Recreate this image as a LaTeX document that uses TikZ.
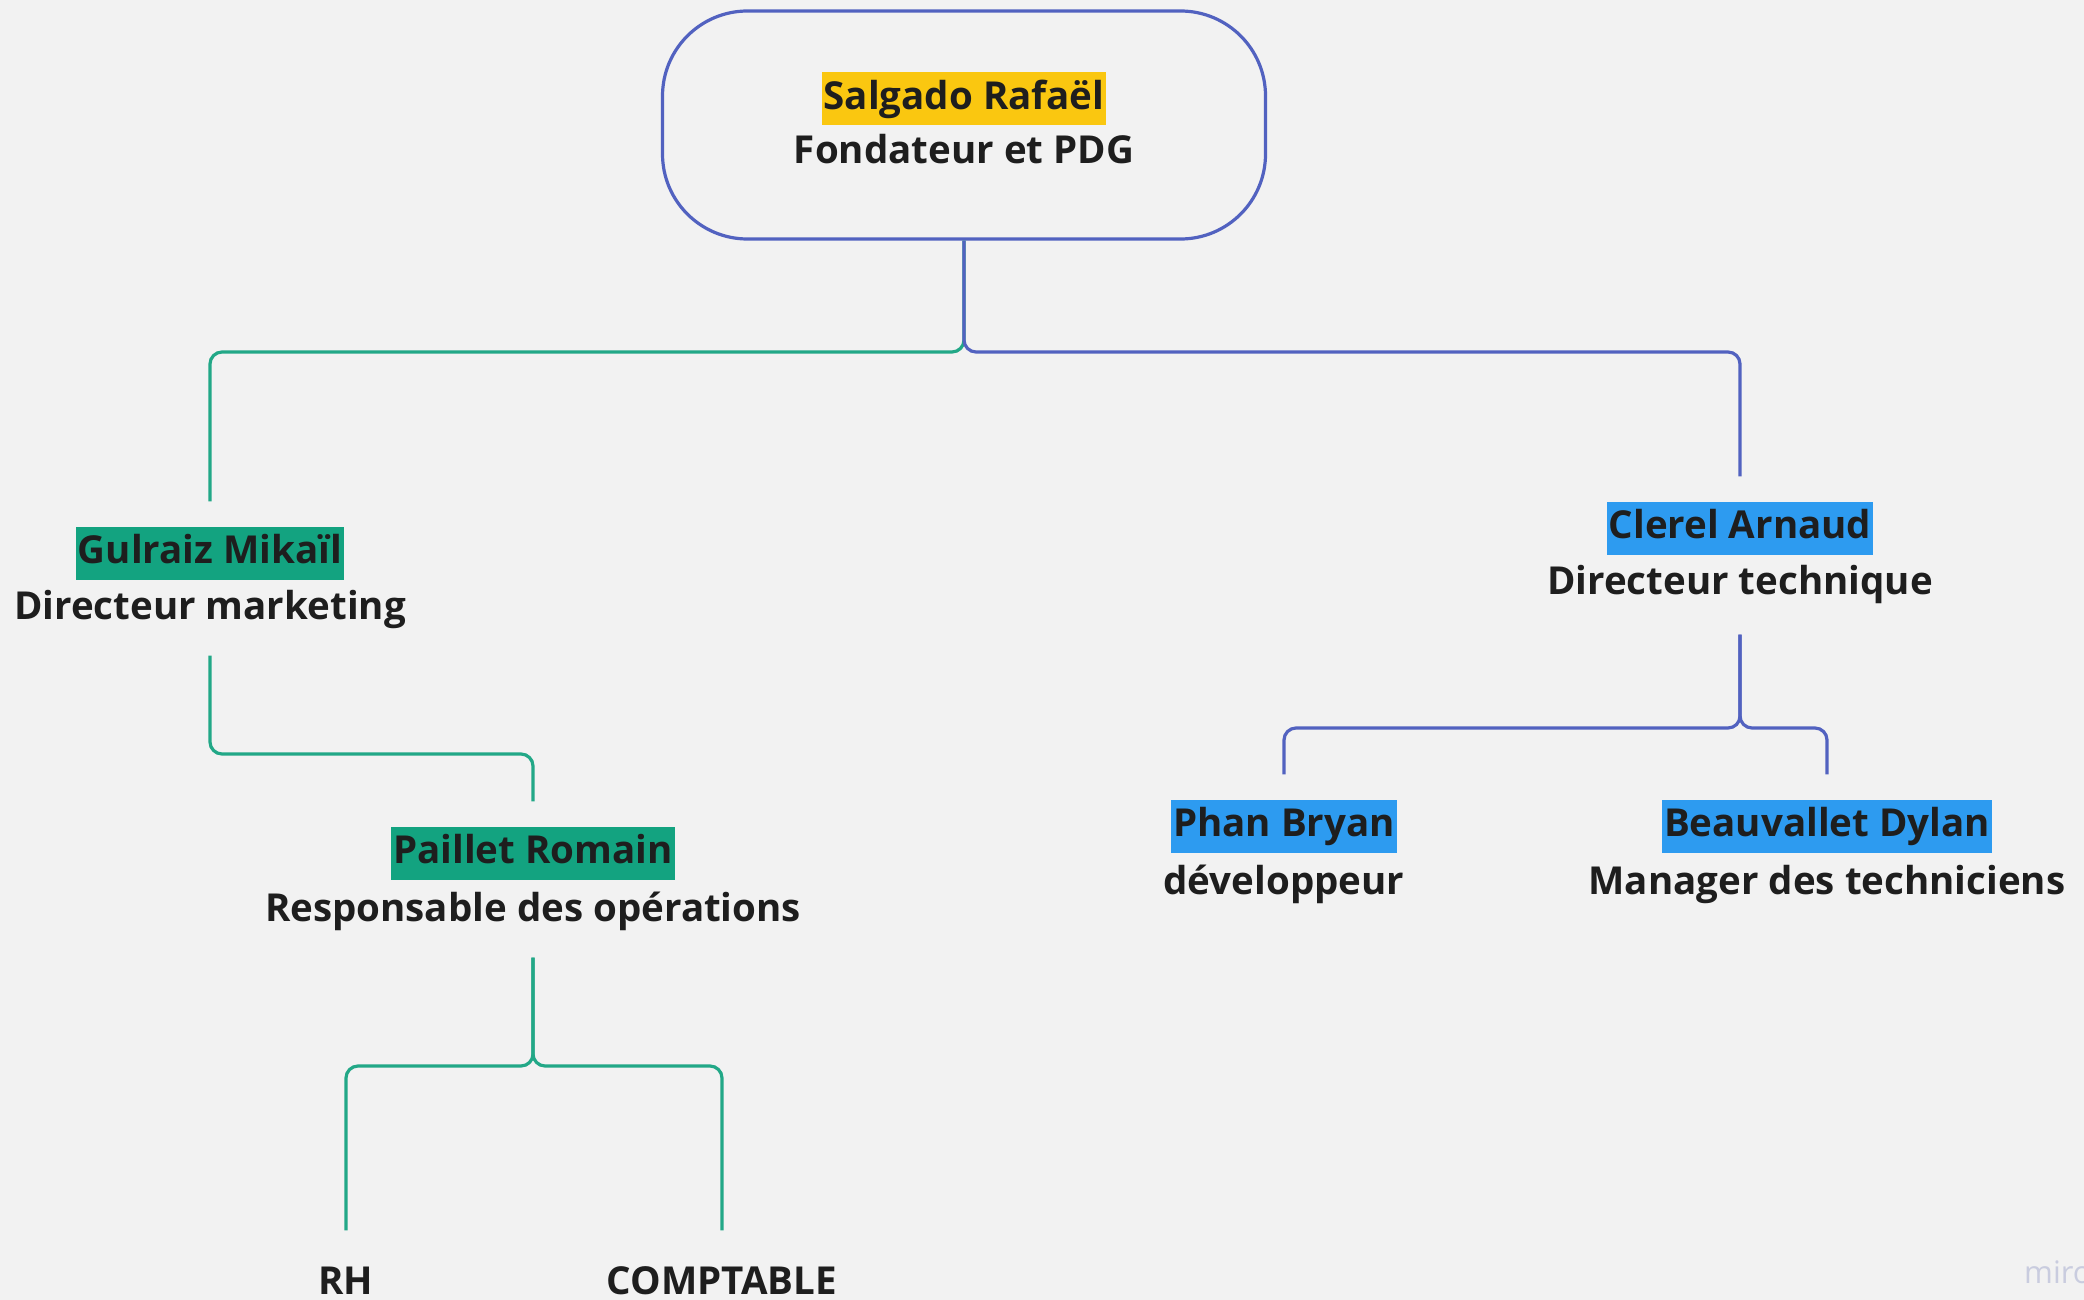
\documentclass[tikz,border=0pt]{standalone}
\usepackage{fontspec}
\IfFontExistsTF{Open Sans SemiBold}{\newfontfamily\sbfont{Open Sans SemiBold}}{\newfontfamily\sbfontx{Open Sans}\newcommand\sbfont{\sbfontx\bfseries}}
\newfontfamily\wmfont{Open Sans}
\definecolor{bg}{HTML}{F2F2F2}
\definecolor{lnblue}{HTML}{5262C0}
\definecolor{lngreen}{HTML}{22A887}
\definecolor{hlyellow}{HTML}{FAC710}
\definecolor{hlgreen}{HTML}{13A380}
\definecolor{hlblue}{HTML}{2D9BF0}
\definecolor{txt}{HTML}{1E1E1E}
\definecolor{miro}{HTML}{C9CCDF}
\tikzset{
  namebox/.style={fill=#1, text=txt, font=\sbfont\fontsize{38.5}{46}\selectfont, inner xsep=2pt, inner ysep=0pt, minimum height=53pt, text height=29pt, text depth=8pt},
  titletext/.style={text=txt, font=\sbfont\fontsize{38.5}{46}\selectfont, inner sep=0pt, text height=29pt, text depth=8pt},
  blueln/.style={draw=lnblue, line width=3.2pt, rounded corners=12pt},
  greenln/.style={draw=lngreen, line width=3.2pt, rounded corners=12pt},
}
\begin{document}
\begin{tikzpicture}[x=1pt,y=-1pt]
\fill[bg] (0,0) rectangle (2084,1300);
\useasboundingbox (0,0) rectangle (2084,1300);

% top box
\node[draw=lnblue, line width=3.2pt, rounded corners=85pt, minimum width=603pt, minimum height=228pt] (top) at (964,125) {};
\node[namebox=hlyellow] (salgado) at (964,99) {Salgado Rafaël};
\node[titletext] (pdg) at (964,153) {Fondateur et PDG};

% level 1
\node[namebox=hlgreen] (gulraiz) at (210,553) {Gulraiz Mikaïl};
\node[titletext] (dirm) at (210,609) {Directeur marketing};
\node[namebox=hlblue] (clerel) at (1740,528) {Clerel Arnaud};
\node[titletext] (dirt) at (1740,584) {Directeur technique};

% level 2
\node[namebox=hlgreen] (paillet) at (533,853) {Paillet Romain};
\node[titletext] (resp) at (533,911) {Responsable des opérations};
\node[namebox=hlblue] (phan) at (1284,826) {Phan Bryan};
\node[titletext] (dev) at (1284,884) {développeur};
\node[namebox=hlblue] (beau) at (1827,826) {Beauvallet Dylan};
\node[titletext] (man) at (1827,884) {Manager des techniciens};

% level 3
\node[titletext] (rh) at (346,1284) {RH};
\node[titletext] (compta) at (722,1284) {COMPTABLE};

% watermark
\node[anchor=west, text=miro, font=\wmfont\fontsize{31}{36}\selectfont, inner sep=0pt] (wm) at (2024,1272) {miro};

% junction coordinates
\coordinate (j1) at (964,352);
\coordinate (j2) at (210,754);
\coordinate (j3) at (533,1066);
\coordinate (j4) at (1740,728);

% connectors
\draw[greenln] (top.south) -- (j1) -| ([yshift=25pt]gulraiz.north);
\draw[blueln] (top.south) -- (j1) -| ([yshift=25pt]clerel.north);

\draw[greenln] ([yshift=-28pt]dirm.south) -- (j2) -| ([yshift=25pt]paillet.north);

\draw[greenln] ([yshift=-28pt]resp.south) -- (j3) -| ([yshift=35pt]rh.north);
\draw[greenln] ([yshift=-28pt]resp.south) -- (j3) -| ([yshift=35pt]compta.north);

\draw[blueln] ([yshift=-32pt]dirt.south) -- (j4) -| ([yshift=25pt]phan.north);
\draw[blueln] ([yshift=-32pt]dirt.south) -- (j4) -| ([yshift=25pt]beau.north);
\end{tikzpicture}
\end{document}
